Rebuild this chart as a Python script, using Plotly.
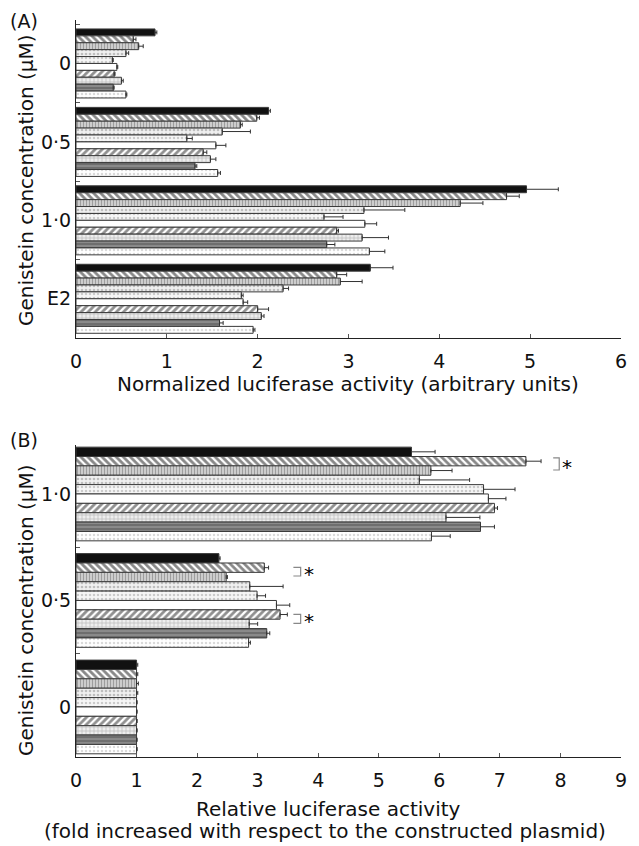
import plotly.graph_objects as go

# ---------------- data ----------------
series_names = ["S1", "S2", "S3", "S4", "S5", "S6", "S7", "S8", "S9", "S10"]

# Panel A: normalized luciferase activity (arbitrary units)
cats_a = ["0", "0·5", "1·0", "E2"]
a_0 = [0.87, 0.63, 0.69, 0.55, 0.40, 0.45, 0.42, 0.50, 0.41, 0.55]
a_0_sd = [0.02, 0.03, 0.05, 0.03, 0.01, 0.01, 0.01, 0.02, 0.01, 0.01]
a_05 = [2.12, 1.99, 1.81, 1.61, 1.22, 1.54, 1.40, 1.48, 1.31, 1.56]
a_05_sd = [0.02, 0.03, 0.02, 0.31, 0.06, 0.11, 0.04, 0.06, 0.02, 0.03]
a_10 = [4.96, 4.74, 4.23, 3.17, 2.73, 3.18, 2.87, 3.15, 2.76, 3.23]
a_10_sd = [0.35, 0.14, 0.25, 0.45, 0.21, 0.13, 0.02, 0.29, 0.09, 0.17]
a_e2 = [3.24, 2.87, 2.91, 2.28, 1.82, 1.84, 2.00, 2.04, 1.58, 1.95]
a_e2_sd = [0.25, 0.11, 0.24, 0.06, 0.02, 0.05, 0.12, 0.03, 0.04, 0.02]

# Panel B: relative luciferase activity (fold)
cats_b = ["1·0", "0·5", "0"]
b_10 = [5.54, 7.43, 5.86, 5.67, 6.73, 6.81, 6.91, 6.11, 6.68, 5.87]
b_10_sd = [0.39, 0.25, 0.35, 0.83, 0.52, 0.29, 0.05, 0.56, 0.23, 0.31]
b_05 = [2.36, 3.11, 2.48, 2.87, 2.99, 3.31, 3.37, 2.86, 3.15, 2.85]
b_05_sd = [0.02, 0.07, 0.02, 0.55, 0.14, 0.22, 0.12, 0.14, 0.05, 0.03]
b_0 = [1.00, 1.00, 1.00, 1.00, 1.00, 1.00, 1.00, 1.00, 1.00, 1.00]
b_0_sd = [0.02, 0.02, 0.03, 0.02, 0.01, 0.01, 0.01, 0.01, 0.01, 0.01]

xticks_a = [0, 1, 2, 3, 4, 5, 6]
xticks_b = [0, 1, 2, 3, 4, 5, 6, 7, 8, 9]

# ---------------- styles ----------------
styles = [
    dict(color="#111111", pattern=None),
    dict(color="#ffffff", pattern=dict(shape="\\", fgcolor="#111111", bgcolor="#ffffff", size=5, solidity=0.55)),
    dict(color="#cccccc", pattern=dict(shape="|", fgcolor="#666666", bgcolor="#d6d6d6", size=3, solidity=0.45)),
    dict(color="#eeeeee", pattern=dict(shape=".", fgcolor="#8c8c8c", bgcolor="#f0f0f0", size=4, solidity=0.35)),
    dict(color="#f2f2f2", pattern=dict(shape=".", fgcolor="#a0a0a0", bgcolor="#f6f6f6", size=4, solidity=0.3)),
    dict(color="#ffffff", pattern=None),
    dict(color="#ffffff", pattern=dict(shape="/", fgcolor="#222222", bgcolor="#ffffff", size=5, solidity=0.55)),
    dict(color="#e0e0e0", pattern=dict(shape="+", fgcolor="#808080", bgcolor="#eeeeee", size=4, solidity=0.3)),
    dict(color="#8a8a8a", pattern=dict(shape="-", fgcolor="#dddddd", bgcolor="#6e6e6e", size=4, solidity=0.25)),
    dict(color="#ffffff", pattern=dict(shape=".", fgcolor="#b4b4b4", bgcolor="#ffffff", size=4, solidity=0.3)),
]

FONT = "DejaVu Sans, Verdana, sans-serif"

groups_a = [(a_0, a_0_sd), (a_05, a_05_sd), (a_10, a_10_sd), (a_e2, a_e2_sd)]
groups_b = [(b_10, b_10_sd), (b_05, b_05_sd), (b_0, b_0_sd)]

fig = go.Figure()


def add_panel(groups, cats, xa, ya):
    for i, name in enumerate(series_names):
        vals = [g[0][i] for g in groups]
        sds = [g[1][i] for g in groups]
        st = styles[i]
        marker = dict(color=st["color"], line=dict(color="#3a3a3a", width=1))
        if st["pattern"] is not None:
            marker["pattern"] = st["pattern"]
        fig.add_trace(go.Bar(
            x=vals, y=cats, orientation="h", name=name, showlegend=False,
            marker=marker, xaxis=xa, yaxis=ya,
            error_x=dict(type="data", symmetric=False, array=sds,
                         arrayminus=[0] * len(sds), color="#333333",
                         thickness=1, width=2),
        ))


add_panel(groups_a, cats_a, "x", "y")
add_panel(groups_b, cats_b, "x2", "y2")

W, H = 639, 846
OFF = 8  # default page body margin


def px(x):
    return (x - OFF) / W


def py(y):
    return 1 - (y - OFF) / H


tick_font = dict(family=FONT, size=19, color="#111111")

common_x = dict(showgrid=False, zeroline=False, showline=True, linecolor="#222222",
                linewidth=1, ticks="inside", ticklen=4, tickcolor="#555555",
                tickfont=tick_font, ticklabelstandoff=6, automargin=False)
common_y = dict(type="category", showgrid=False, zeroline=False, showline=True,
                linecolor="#222222", linewidth=1, ticks="inside", ticklen=4,
                tickcolor="#555555", tickson="boundaries", tickfont=tick_font,
                ticklabelstandoff=0, automargin=False)

fig.update_layout(
    width=W, height=H, autosize=False,
    margin=dict(l=0, r=0, t=0, b=0),
    paper_bgcolor="white", plot_bgcolor="white",
    barmode="group", bargap=0.12, bargroupgap=0,
    font=dict(family=FONT, size=19, color="#111111"),
    xaxis=dict(domain=[px(76), px(621)], anchor="y", range=[0, 6],
               tickvals=xticks_a, **common_x),
    yaxis=dict(domain=[py(338), py(20)], anchor="x", categoryorder="array",
               categoryarray=cats_a, range=[3.5, -0.554], **common_y),
    xaxis2=dict(domain=[px(76), px(621)], anchor="y2", range=[0, 9],
                tickvals=xticks_b, **common_x),
    yaxis2=dict(domain=[py(757), py(445)], anchor="x2", categoryorder="array",
                categoryarray=cats_b, range=[2.47, -0.46], **common_y),
)

title_font = dict(family=FONT, size=20, color="#111")
ann = []
ann.append(dict(text="(A)", x=px(8), y=1, xref="paper", yref="paper",
                xanchor="left", yanchor="top", showarrow=False,
                font=dict(family=FONT, size=19, color="#111")))
ann.append(dict(text="(B)", x=px(8), y=py(440), xref="paper", yref="paper",
                xanchor="left", yanchor="middle", showarrow=False,
                font=dict(family=FONT, size=19, color="#111")))
for yc in (180, 610):
    ann.append(dict(text="Genistein concentration (μM)", x=px(26), y=py(yc),
                    xref="paper", yref="paper", xanchor="center", yanchor="middle",
                    textangle=-90, showarrow=False, font=title_font))
ann.append(dict(text="Normalized luciferase activity (arbitrary units)", x=px(348),
                y=py(384), xref="paper", yref="paper", xanchor="center",
                yanchor="middle", showarrow=False, font=title_font))
ann.append(dict(text="Relative luciferase activity", x=px(328), y=py(809),
                xref="paper", yref="paper", xanchor="center", yanchor="middle",
                showarrow=False, font=title_font))
ann.append(dict(text="(fold increased with respect to the constructed plasmid)",
                x=px(325), y=py(831), xref="paper", yref="paper",
                xanchor="center", yanchor="middle", showarrow=False, font=title_font))

# significance markers in panel B (data coordinates)
sig = [  # (x_left, x_right, y_top, y_bottom, x_star, y_star)
    (7.88, 7.98, -0.34, -0.225, 8.11, -0.25),
    (3.59, 3.71, 0.69, 0.77, 3.84, 0.75),
    (3.59, 3.71, 1.13, 1.215, 3.84, 1.195),
]
shapes = []
for xl, xr, yt, yb, xs, ys in sig:
    shapes.append(dict(type="path", xref="x2", yref="y2",
                       path=f"M {xl} {yt} L {xr} {yt} L {xr} {yb} L {xl} {yb}",
                       line=dict(color="#888888", width=1.2)))
    ann.append(dict(text="*", x=xs, y=ys, xref="x2", yref="y2", showarrow=False,
                    xanchor="center", yanchor="middle",
                    font=dict(family=FONT, size=20, color="#000000")))

fig.update_layout(annotations=ann, shapes=shapes)
fig.write_html("out.html")
